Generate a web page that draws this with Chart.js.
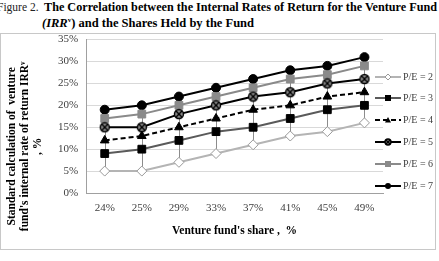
<!DOCTYPE html>
<html>
<head>
<meta charset="utf-8">
<script src="https://cdn.jsdelivr.net/npm/chart.js@4"></script>
<style>
body { margin: 0; width: 439px; height: 261px; background: #fff; overflow: hidden; position: relative; font-family: "Liberation Serif", serif; }
.t { position: absolute; white-space: nowrap; color: #000; font-size: 12.5px; line-height: 13px; }
#box { position: absolute; left: 0; top: 33px; width: 436px; height: 217px; border: 1px solid #c8c8c8; box-sizing: border-box; }
#chart { position: absolute; left: 1px; top: 25px; display: block; }
</style>
</head>
<body>
<div class="t" style="left:-3px; top:1px; font-size:11.5px; color:#222">Figure 2.</div>
<div class="t" style="left:44px; top:1px; font-size:12.2px"><b>The Correlation between the Internal Rates of Return for the Venture Fund</b></div>
<div class="t" style="left:42px; top:14px"><b><i>(IRR</i><sup style="font-size:7px">v</sup>) and the Shares Held by the Fund</b></div>
<div id="box"></div>
<canvas id="chart" width="434" height="224"></canvas>
<script>
/* ------------------ DATA ------------------ */
const shares = ["24%", "25%", "29%", "33%", "37%", "41%", "45%", "49%"];
const seriesNames = ["P/E = 2", "P/E = 3", "P/E = 4", "P/E = 5", "P/E = 6", "P/E = 7"];
const pe2 = [5, 5, 7, 9, 11, 13, 14, 16];
const pe3 = [9, 10, 12, 14, 15, 17, 19, 20];
const pe4 = [12, 13, 15, 17, 19, 20, 22, 23];
const pe5 = [15, 15, 18, 20, 22, 23, 25, 26];
const pe6 = [17, 18, 20, 22, 24, 26, 27, 29];
const pe7 = [19, 20, 22, 24, 26, 28, 29, 31];
const yTicks = [0, 5, 10, 15, 20, 25, 30, 35];

/* ------------------ STYLES ------------------ */
const looks = [
    { color: "#b4b4b4", mark: "diamond" },
    { color: "#5a5a5a", mark: "square", fill: "#000" },
    { color: "#000", mark: "triangle", dash: [5, 3] },
    { color: "#000", mark: "xcircle" },
    { color: "#8a8a8a", mark: "square", fill: "#8a8a8a" },
    { color: "#000", mark: "circle" }
];

function drawMark(g, mark, x, y, r, fill) {
    g.save();
    g.setLineDash([]);
    g.lineWidth = 1;
    if (mark === "diamond") {
        g.fillStyle = "#fff"; g.strokeStyle = "#999";
        g.beginPath(); g.moveTo(x, y - r); g.lineTo(x + r, y); g.lineTo(x, y + r); g.lineTo(x - r, y); g.closePath();
        g.fill(); g.stroke();
    } else if (mark === "square") {
        g.fillStyle = fill;
        g.fillRect(x - r, y - r, 2 * r, 2 * r);
    } else if (mark === "triangle") {
        g.fillStyle = "#000";
        g.beginPath(); g.moveTo(x, y - r); g.lineTo(x + r, y + r * 0.8); g.lineTo(x - r, y + r * 0.8); g.closePath();
        g.fill();
    } else if (mark === "xcircle") {
        g.fillStyle = "#8c8c8c"; g.strokeStyle = "#000"; g.lineWidth = 1.4;
        g.beginPath(); g.arc(x, y, r, 0, Math.PI * 2); g.fill(); g.stroke();
        const d = r * 0.7;
        g.beginPath(); g.moveTo(x - d, y - d); g.lineTo(x + d, y + d); g.moveTo(x + d, y - d); g.lineTo(x - d, y + d); g.stroke();
    } else {
        g.fillStyle = "#000";
        g.beginPath(); g.arc(x, y, r, 0, Math.PI * 2); g.fill();
    }
    g.restore();
}

function makePoint(look, r) {
    const s = Math.ceil(r * 2 + 3);
    const c = document.createElement("canvas");
    c.width = s; c.height = s;
    drawMark(c.getContext("2d"), look.mark, s / 2, s / 2, r, look.fill);
    return c;
}

const allValues = [pe2, pe3, pe4, pe5, pe6, pe7];

const datasets = allValues.map((vals, i) => {
    const l = looks[i];
    const ds = {
        label: seriesNames[i],
        data: vals,
        borderColor: l.color,
        borderWidth: 2,
        borderDash: l.dash || [],
        pointRadius: 4.5,
        pointBorderWidth: 1,
        pointBorderColor: l.color,
        pointBackgroundColor: l.fill || "#000",
        tension: 0
    };
    if (l.mark === "diamond") { ds.pointStyle = "rectRot"; ds.pointRadius = 5; ds.pointBackgroundColor = "#fff"; ds.pointBorderColor = "#999"; }
    if (l.mark === "square") { ds.pointStyle = "rect"; ds.pointRadius = 5.5; ds.pointBorderColor = l.fill; }
    if (l.mark === "triangle") { ds.pointStyle = "triangle"; ds.pointRadius = 5; ds.pointBorderColor = "#000"; }
    if (l.mark === "xcircle") { ds.pointStyle = makePoint(l, 4.5); }
    if (l.mark === "circle") { ds.pointStyle = "circle"; ds.pointRadius = 4.5; ds.pointBorderColor = "#000"; }
    return ds;
});

/* ------------------ HIGH-LOW LINES ------------------ */
const highLow = {
    id: "highLow",
    beforeDatasetsDraw(chart) {
        const { ctx, scales } = chart;
        ctx.save();
        ctx.strokeStyle = "#8c8c8c";
        ctx.lineWidth = 1;
        shares.forEach((s, i) => {
            const col = allValues.map(v => v[i]);
            const x = Math.round(scales.x.getPixelForValue(i)) + 0.5;
            ctx.beginPath();
            ctx.moveTo(x, scales.y.getPixelForValue(Math.min(...col)));
            ctx.lineTo(x, scales.y.getPixelForValue(Math.max(...col)));
            ctx.stroke();
        });
        ctx.restore();
    }
};

/* ------------------ Y TITLE + LEGEND ------------------ */
const extras = {
    id: "extras",
    afterDraw(chart) {
        const { ctx, chartArea } = chart;
        const lines = ["Standard calculation of  venture", "fund's internal rate of return IRR\u1D5B", ", %"];
        const offs = [74, 61, 48];
        const cy = (chartArea.top + chartArea.bottom) / 2 + 30;
        ctx.save();
        ctx.fillStyle = "#000";
        ctx.font = "bold 11.5px 'Liberation Serif'";
        ctx.textAlign = "center";
        ctx.textBaseline = "middle";
        lines.forEach((t, i) => {
            ctx.save();
            ctx.translate(chartArea.left - offs[i], cy);
            ctx.rotate(-Math.PI / 2);
            ctx.fillText(t, 0, 0);
            ctx.restore();
        });

        // legend: short line with marker, then the label
        const x0 = chartArea.right - 8;
        chart.data.datasets.forEach((d, i) => {
            const l = looks[i];
            const y = Math.round(chartArea.top + 37 + i * 21.8);
            ctx.strokeStyle = l.color;
            ctx.lineWidth = 2;
            ctx.setLineDash(l.dash || []);
            ctx.beginPath(); ctx.moveTo(x0, y); ctx.lineTo(x0 + 26, y); ctx.stroke();
            drawMark(ctx, l.mark, x0 + 13, y, 3, l.fill);
            ctx.fillStyle = "#404040";
            ctx.font = "10px 'Liberation Serif'";
            ctx.textAlign = "left";
            ctx.fillText(d.label, x0 + 28, y);
        });
        ctx.restore();
    }
};

new Chart(document.getElementById("chart"), {
    type: "line",
    data: { labels: shares, datasets: datasets },
    plugins: [highLow, extras],
    options: {
        responsive: false,
        animation: false,
        layout: { padding: { left: 49, top: 1, right: 52, bottom: 11 } },
        plugins: {
            tooltip: { enabled: false },
            legend: { display: false }
        },
        scales: {
            x: {
                offset: true,
                grid: { display: false, drawTicks: false },
                border: { color: "#a0a0a0" },
                ticks: { color: "#404040", padding: 9, font: { family: "'Liberation Serif'", size: 11 } },
                title: {
                    display: true,
                    text: "Venture fund's share ,  %",
                    color: "#000",
                    padding: { top: 0, bottom: 0 },
                    font: { family: "'Liberation Serif'", size: 11.5, weight: "bold" }
                }
            },
            y: {
                min: yTicks[0],
                max: yTicks[yTicks.length - 1],
                afterBuildTicks: axis => { axis.ticks = yTicks.map(v => ({ value: v })); },
                grid: { color: "#d9d9d9", drawTicks: false },
                border: { color: "#a0a0a0" },
                ticks: { color: "#404040", padding: 8, font: { family: "'Liberation Serif'", size: 11 }, callback: v => v + "%" }
            }
        }
    }
});
</script>
</body>
</html>
